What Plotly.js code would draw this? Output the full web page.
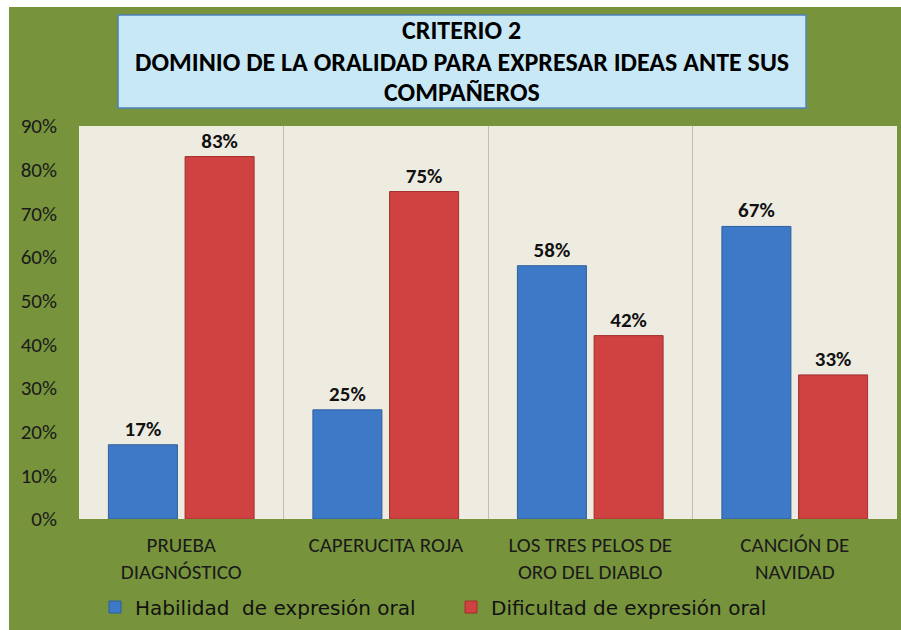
<!DOCTYPE html>
<html>
<head>
<meta charset="utf-8">
<script src="https://cdn.plot.ly/plotly-3.0.1.min.js"></script>
<style>
  html, body { margin: 0; padding: 0; background: #ffffff; }
  #chart { position: absolute; left: 9px; top: 7px; width: 892px; height: 623px; }
</style>
</head>
<body>
<div id="chart"></div>
<script>
const categories = ["PRUEBA<br>DIAGNÓSTICO", "CAPERUCITA ROJA", "LOS TRES PELOS DE<br>ORO DEL DIABLO", "CANCIÓN DE<br>NAVIDAD"];
const habilidad = [0.17, 0.25, 0.58, 0.67];
const dificultad = [0.83, 0.75, 0.42, 0.33];
const seriesNames = ["Habilidad\u00a0 de expresión oral", "Dificultad de expresión oral"];
const titleLines = ["CRITERIO 2", "DOMINIO DE LA ORALIDAD PARA EXPRESAR IDEAS ANTE SUS", "COMPAÑEROS"];
const yTicks = [0, 0.1, 0.2, 0.3, 0.4, 0.5, 0.6, 0.7, 0.8, 0.9];

const FONT = "Carlito, Calibri, Liberation Sans Narrow, sans-serif";
const LEGFONT = "DejaVu Sans, Verdana, sans-serif";

const traces = [
  {
    type: "bar", name: seriesNames[0], x: categories, y: habilidad,
    marker: { color: "#3d79c6", line: { color: "#2f5f9e", width: 1 } },
    texttemplate: "%{y:.0%}", textposition: "outside", cliponaxis: false,
    textfont: { family: FONT, size: 21, color: "#111111", weight: "bold" },
    hoverinfo: "skip"
  },
  {
    type: "bar", name: seriesNames[1], x: categories, y: dificultad,
    marker: { color: "#d04141", line: { color: "#a33030", width: 1 } },
    texttemplate: "%{y:.0%}", textposition: "outside", cliponaxis: false,
    textfont: { family: FONT, size: 21, color: "#111111", weight: "bold" },
    hoverinfo: "skip"
  }
];

const titleY = [1.2443, 1.1628, 1.0865];
const annotations = titleLines.map((t, i) => ({
  text: "<b>" + t + "</b>", xref: "paper", yref: "paper", x: 0.468, y: titleY[i],
  xanchor: "center", yanchor: "middle", showarrow: false,
  font: { family: FONT, size: 26, color: "#000000" }
}));

const layout = {
  width: 892, height: 623,
  margin: { l: 70, r: 4, t: 119, b: 111 },
  paper_bgcolor: "#77933c",
  plot_bgcolor: "#eeece1",
  font: { family: FONT, color: "#1a1a1a" },
  barmode: "group",
  bargap: 0.25,
  bargroupgap: 0.1,
  showlegend: true,
  legend: {
    orientation: "h", x: 0.0196, y: -0.224, xanchor: "left", yanchor: "middle",
    font: { family: LEGFONT, size: 20, color: "#111111" },
    entrywidth: 311, entrywidthmode: "pixels",
    bgcolor: "rgba(0,0,0,0)"
  },
  xaxis: {
    type: "category", showgrid: true, tickson: "boundaries", gridcolor: "#bfbfb7", gridwidth: 1,
    ticks: "", showline: false, zeroline: false, ticklabelstandoff: 11,
    tickfont: { family: FONT, size: 21, color: "#1a1a1a" }
  },
  yaxis: {
    range: [0, 0.9], tickvals: yTicks, tickformat: ".0%", showgrid: false, zeroline: false,
    showline: false, ticks: "", ticklabelstandoff: 21,
    tickfont: { family: FONT, size: 21, color: "#1a1a1a" }
  },
  shapes: [{
    type: "rect", xref: "paper", yref: "paper",
    x0: 0.0477, x1: 0.8888, y0: 1.0458, y1: 1.2824,
    fillcolor: "#c8e8f6", line: { color: "#4f81bd", width: 1.5 }, layer: "above"
  }],
  annotations: annotations
};

Plotly.newPlot("chart", traces, layout, { displayModeBar: false, staticPlot: true });
</script>
</body>
</html>
